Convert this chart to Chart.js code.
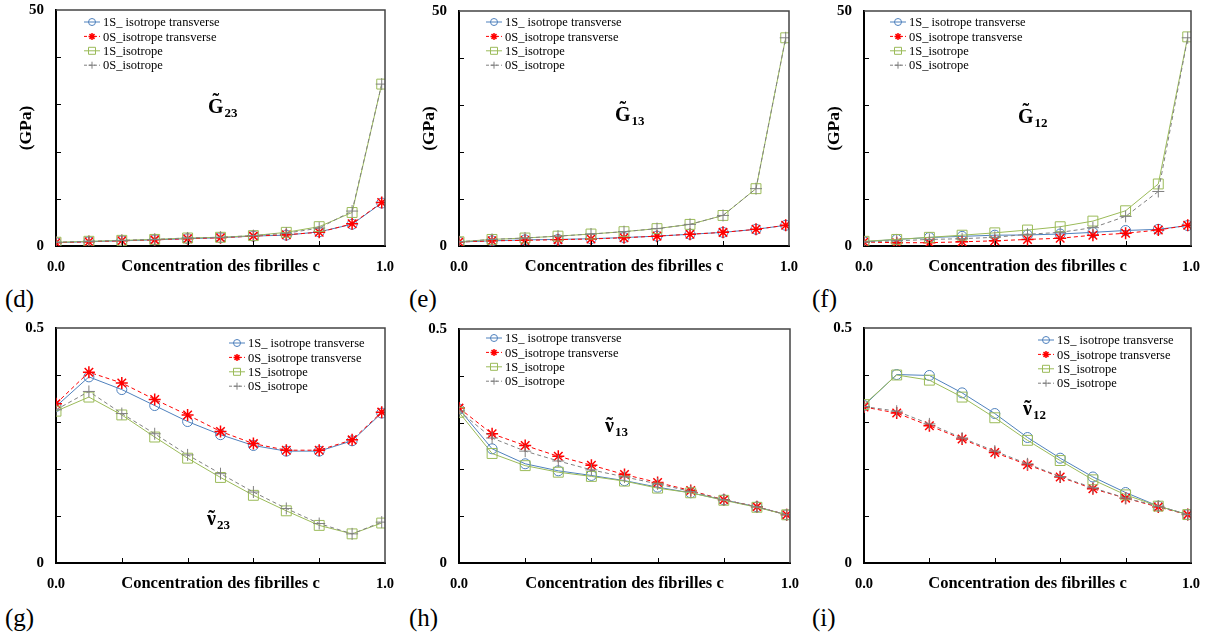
<!DOCTYPE html>
<html lang="fr">
<head>
<meta charset="UTF-8">
<title>Modules de cisaillement et coefficients de Poisson</title>
<script src="https://cdn.jsdelivr.net/npm/chart.js"></script>
<style>
    body {
        margin: 0;
        width: 1211px;
        height: 637px;
        position: relative;
        overflow: hidden;
        background: #fff;
        font-family: "Liberation Serif", "Times New Roman", serif;
    }
    .panneau { position: absolute; }
    .lettre { position: absolute; font-size: 25px; line-height: 1; color: #000; }
</style>
</head>
<body>
<script>
// concentration des fibrilles c
const concentration = [0, 0.1, 0.2, 0.3, 0.4, 0.5, 0.6, 0.7, 0.8, 0.9, 0.99];
const legendes = ['1S_ isotrope transverse', '0S_isotrope transverse', '1S_isotrope', '0S_isotrope'];

// G23 (GPa)
const G23_1S_transverse = [0.7, 0.9, 1.1, 1.3, 1.55, 1.75, 2.1, 2.3, 3.0, 4.6, 9.1];
const G23_0S_transverse = [0.7, 0.9, 1.1, 1.3, 1.55, 1.75, 2.1, 2.4, 2.9, 4.7, 9.2];
const G23_1S_isotrope   = [0.8, 1.0, 1.2, 1.4, 1.7, 1.85, 2.2, 2.9, 4.1, 7.1, 34.3];
const G23_0S_isotrope   = [0.8, 1.0, 1.2, 1.4, 1.7, 1.85, 2.2, 2.7, 3.8, 7.4, 34.3];

// G13 (GPa)
const G13_1S_transverse = [0.85, 1.1, 1.3, 1.4, 1.55, 1.8, 2.1, 2.5, 2.9, 3.55, 4.4];
const G13_0S_transverse = [0.85, 1.1, 1.2, 1.35, 1.5, 1.75, 2.1, 2.5, 2.9, 3.55, 4.4];
const G13_1S_isotrope   = [0.9, 1.4, 1.7, 2.1, 2.55, 3.05, 3.7, 4.6, 6.5, 12.2, 44.3];
const G13_0S_isotrope   = [0.9, 1.4, 1.7, 2.1, 2.55, 3.05, 3.7, 4.6, 6.5, 12.2, 44.3];

// G12 (GPa)
const G12_1S_transverse = [0.9, 1.4, 1.8, 2.05, 2.3, 2.35, 2.55, 2.9, 3.3, 3.55, 4.35];
const G12_0S_transverse = [0.85, 0.7, 0.7, 0.9, 1.1, 1.4, 1.65, 2.3, 2.7, 3.4, 4.4];
const G12_1S_isotrope   = [1.0, 1.4, 1.85, 2.3, 2.8, 3.4, 4.1, 5.3, 7.5, 13.2, 44.5];
const G12_0S_isotrope   = [0.85, 1.1, 1.4, 1.55, 1.85, 2.5, 2.9, 3.9, 6.3, 11.6, 44.3];

// nu23
const nu23_1S_transverse = [0.333, 0.396, 0.369, 0.335, 0.301, 0.273, 0.250, 0.238, 0.238, 0.260, 0.319];
const nu23_0S_transverse = [0.339, 0.406, 0.383, 0.348, 0.315, 0.280, 0.254, 0.240, 0.240, 0.262, 0.321];
const nu23_1S_isotrope   = [0.323, 0.353, 0.315, 0.268, 0.223, 0.182, 0.144, 0.111, 0.080, 0.062, 0.085];
const nu23_0S_isotrope   = [0.326, 0.365, 0.318, 0.275, 0.230, 0.190, 0.151, 0.116, 0.084, 0.062, 0.087];

// nu13
const nu13_1S_transverse = [0.329, 0.244, 0.212, 0.197, 0.187, 0.176, 0.162, 0.150, 0.135, 0.120, 0.103];
const nu13_0S_transverse = [0.331, 0.276, 0.251, 0.228, 0.209, 0.189, 0.172, 0.155, 0.135, 0.120, 0.103];
const nu13_1S_isotrope   = [0.322, 0.234, 0.208, 0.194, 0.185, 0.175, 0.160, 0.150, 0.134, 0.119, 0.103];
const nu13_0S_isotrope   = [0.325, 0.267, 0.239, 0.218, 0.199, 0.184, 0.169, 0.153, 0.135, 0.120, 0.103];

// nu12
const nu12_1S_transverse = [0.335, 0.401, 0.399, 0.362, 0.318, 0.267, 0.223, 0.183, 0.150, 0.121, 0.103];
const nu12_0S_transverse = [0.332, 0.319, 0.292, 0.264, 0.235, 0.209, 0.183, 0.158, 0.138, 0.119, 0.103];
const nu12_1S_isotrope   = [0.337, 0.400, 0.389, 0.353, 0.309, 0.261, 0.218, 0.177, 0.145, 0.121, 0.103];
const nu12_0S_isotrope   = [0.333, 0.323, 0.296, 0.266, 0.238, 0.211, 0.184, 0.160, 0.138, 0.121, 0.103];

// styles des quatre séries
const styles = [
    { color: '#4f81bd', dash: [],     point: 'circle', r: 5,   bw: 1 },
    { color: '#ff0000', dash: [4, 3], point: 'star',   r: 6,   bw: 1.5 },
    { color: '#9bbb59', dash: [],     point: 'rect',   r: 7,   bw: 1 },
    { color: '#808080', dash: [4, 3], point: 'cross',  r: 6,   bw: 1 }
];

// cadre (x0, y0, x1, y1), légende, titre
const panneaux = [
    { lettre: '(d)', lx: 5,   ly: 286, series: [G23_1S_transverse, G23_0S_transverse, G23_1S_isotrope, G23_0S_isotrope],
      ymax: 50, ystep: 10, ytitre: '(GPa)', zone: [56, 10, 385, 246],
      leg: [92, 22], sym: 'G', sub: '23', tp: [208, 113] },
    { lettre: '(e)', lx: 409, ly: 286, series: [G13_1S_transverse, G13_0S_transverse, G13_1S_isotrope, G13_0S_isotrope],
      ymax: 50, ystep: 10, ytitre: '(GPa)', zone: [459, 11, 789, 246],
      leg: [494, 22], sym: 'G', sub: '13', tp: [615, 121] },
    { lettre: '(f)', lx: 812, ly: 286, series: [G12_1S_transverse, G12_0S_transverse, G12_1S_isotrope, G12_0S_isotrope],
      ymax: 50, ystep: 10, ytitre: '(GPa)', zone: [864, 11, 1191, 246],
      leg: [898, 22], sym: 'G', sub: '12', tp: [1018, 123] },
    { lettre: '(g)', lx: 5,   ly: 605, series: [nu23_1S_transverse, nu23_0S_transverse, nu23_1S_isotrope, nu23_0S_isotrope],
      ymax: 0.5, ystep: 0.1, ytitre: '', zone: [56, 328, 385, 563],
      leg: [237, 343], sym: '\u03bd', sub: '23', tp: [207, 525] },
    { lettre: '(h)', lx: 409, ly: 605, series: [nu13_1S_transverse, nu13_0S_transverse, nu13_1S_isotrope, nu13_0S_isotrope],
      ymax: 0.5, ystep: 0.1, ytitre: '', zone: [459, 329, 790, 563],
      leg: [494, 338], sym: '\u03bd', sub: '13', tp: [605, 432] },
    { lettre: '(i)', lx: 812, ly: 605, series: [nu12_1S_transverse, nu12_0S_transverse, nu12_1S_isotrope, nu12_0S_isotrope],
      ymax: 0.5, ystep: 0.1, ytitre: '', zone: [864, 328, 1191, 563],
      leg: [1046, 340], sym: '\u03bd', sub: '12', tp: [1023, 415] }
];

const POLICE = '"Liberation Serif", "Times New Roman", serif';

function symbole(ctx, forme, x, y, r) {
    ctx.beginPath();
    if (forme === 'circle') {
        ctx.arc(x, y, r, 0, 2 * Math.PI);
    } else if (forme === 'rect') {
        ctx.rect(x - r, y - r, 2 * r, 2 * r);
    } else if (forme === 'star') {
        const d = r * Math.SQRT1_2;
        ctx.moveTo(x - r, y); ctx.lineTo(x + r, y);
        ctx.moveTo(x, y - r); ctx.lineTo(x, y + r);
        ctx.moveTo(x - d, y - d); ctx.lineTo(x + d, y + d);
        ctx.moveTo(x - d, y + d); ctx.lineTo(x + d, y - d);
    } else {
        ctx.moveTo(x - r, y); ctx.lineTo(x + r, y);
        ctx.moveTo(x, y - r); ctx.lineTo(x, y + r);
    }
    ctx.stroke();
}

// cadre haut/droite + graduations intérieures
const pluginCadre = {
    id: 'cadre',
    afterDraw(chart) {
        const { ctx, chartArea: a, scales } = chart;
        ctx.save();
        ctx.strokeStyle = '#444';
        ctx.lineWidth = 1.5;
        ctx.beginPath();
        ctx.moveTo(a.left, a.top);
        ctx.lineTo(a.right, a.top);
        ctx.lineTo(a.right, a.bottom);
        ctx.stroke();
        ctx.strokeStyle = '#000';
        ctx.lineWidth = 1;
        const sx = scales.x, sy = scales.y;
        sx.ticks.forEach(t => {
            if (t.value > sx.min + 1e-9 && t.value < sx.max - 1e-9) {
                const p = Math.round(sx.getPixelForValue(t.value)) + 0.5;
                ctx.beginPath(); ctx.moveTo(p, a.bottom); ctx.lineTo(p, a.bottom - 5); ctx.stroke();
            }
        });
        sy.ticks.forEach(t => {
            if (t.value > sy.min + 1e-9 && t.value < sy.max - 1e-9) {
                const p = Math.round(sy.getPixelForValue(t.value)) + 0.5;
                ctx.beginPath(); ctx.moveTo(a.left, p); ctx.lineTo(a.left + 5, p); ctx.stroke();
            }
        });
        ctx.restore();
    }
};

// légende interne et titre de la grandeur
const pluginLegende = {
    id: 'legende',
    afterDraw(chart, args, opts) {
        const ctx = chart.ctx;
        const ox = opts.ox, oy = opts.oy;
        ctx.save();
        chart.data.datasets.forEach((ds, i) => {
            const s = styles[i];
            const x = opts.leg[0] - ox, y = opts.leg[1] - oy + i * 14.4;
            ctx.strokeStyle = s.color;
            ctx.lineWidth = 1;
            ctx.setLineDash(s.dash.length ? [3, 2] : []);
            ctx.beginPath(); ctx.moveTo(x - 8, y); ctx.lineTo(x + 8, y); ctx.stroke();
            ctx.setLineDash([]);
            ctx.lineWidth = s.bw;
            symbole(ctx, s.point, x, y, 3.5);
            ctx.fillStyle = '#000';
            ctx.font = '12.5px ' + POLICE;
            ctx.textBaseline = 'middle';
            ctx.fillText(ds.label, x + 11, y + 1);
        });
        // grandeur avec tilde et indice
        ctx.textBaseline = 'alphabetic';
        ctx.font = 'bold 20px ' + POLICE;
        const tx = opts.tp[0] - ox, ty = opts.tp[1] - oy;
        ctx.fillText(opts.sym, tx, ty);
        const w = ctx.measureText(opts.sym).width;
        const majuscule = opts.sym === 'G';
        ctx.textAlign = 'center';
        ctx.fillText('\u02dc', tx + w / 2, ty - (majuscule ? 5 : 0));
        ctx.textAlign = 'left';
        ctx.font = 'bold 13px ' + POLICE;
        ctx.fillText(opts.sub, tx + w + 1, ty + 4);
        ctx.restore();
    }
};

const sansDebord = s => {
    s.paddingLeft = 0;
    s.paddingRight = 0;
    s.paddingTop = 0;
    s.paddingBottom = 0;
};

panneaux.forEach(p => {
    const [x0, y0, x1, y1] = p.zone;
    const ox = x0 - 56, oy = y0 - 10;
    const div = document.createElement('div');
    div.className = 'panneau';
    div.style.left = ox + 'px';
    div.style.top = oy + 'px';
    div.style.width = (x1 - x0 + 68) + 'px';
    div.style.height = (y1 - y0 + 46) + 'px';
    const canvas = document.createElement('canvas');
    div.appendChild(canvas);
    document.body.appendChild(div);

    const lettre = document.createElement('div');
    lettre.className = 'lettre';
    lettre.style.left = p.lx + 'px';
    lettre.style.top = p.ly + 'px';
    lettre.textContent = p.lettre;
    document.body.appendChild(lettre);

    const ymax = p.ymax;
    new Chart(canvas, {
        type: 'line',
        data: {
            datasets: p.series.map((serie, i) => ({
                label: legendes[i],
                data: concentration.map((c, j) => ({ x: c, y: serie[j] })),
                borderColor: styles[i].color,
                backgroundColor: 'rgba(0,0,0,0)',
                borderWidth: 1,
                borderDash: styles[i].dash,
                pointStyle: styles[i].point,
                pointRadius: styles[i].r,
                pointBorderColor: styles[i].color,
                pointBackgroundColor: 'rgba(0,0,0,0)',
                pointBorderWidth: styles[i].bw,
                tension: 0,
                fill: false,
                order: 4 - i
            }))
        },
        options: {
            responsive: true,
            maintainAspectRatio: false,
            animation: false,
            devicePixelRatio: 1,
            layout: { padding: { left: 0, top: 10, right: 12, bottom: 0 } },
            plugins: {
                legend: { display: false },
                tooltip: { enabled: false },
                legende: { ox: ox, oy: oy, leg: p.leg, sym: p.sym, sub: p.sub, tp: p.tp }
            },
            scales: {
                x: {
                    type: 'linear',
                    min: 0,
                    max: 1,
                    afterFit: s => { s.height = 36; sansDebord(s); },
                    grid: { display: false, drawTicks: false },
                    border: { display: true, color: '#000', width: 2 },
                    ticks: {
                        stepSize: 0.2,
                        autoSkip: false,
                        maxRotation: 0,
                        padding: 13,
                        color: '#000',
                        font: { family: POLICE, size: 14.5, weight: 'bold' },
                        callback: v => v === 0 ? '0.0' : (Math.abs(v - 1) < 1e-9 ? '1.0' : '')
                    },
                    title: {
                        display: true,
                        text: 'Concentration des fibrilles c',
                        color: '#000',
                        font: { family: POLICE, size: 16.5, weight: 'bold' },
                        padding: { top: 0, bottom: 5 }
                    }
                },
                y: {
                    min: 0,
                    max: ymax,
                    afterFit: s => { s.width = 56; sansDebord(s); },
                    grid: { display: false, drawTicks: false },
                    border: { display: true, color: '#000', width: 2 },
                    ticks: {
                        stepSize: p.ystep,
                        autoSkip: false,
                        padding: 12,
                        color: '#000',
                        font: { family: POLICE, size: 15, weight: 'bold' },
                        callback: v => v === 0 ? '0' : (Math.abs(v - ymax) < 1e-9 ? String(ymax) : '')
                    },
                    title: {
                        display: p.ytitre !== '',
                        text: p.ytitre,
                        color: '#000',
                        font: { family: POLICE, size: 17.5, weight: 'bold' },
                        padding: { top: 16, bottom: 0 }
                    }
                }
            }
        },
        plugins: [pluginCadre, pluginLegende]
    });
});
</script>
</body>
</html>
